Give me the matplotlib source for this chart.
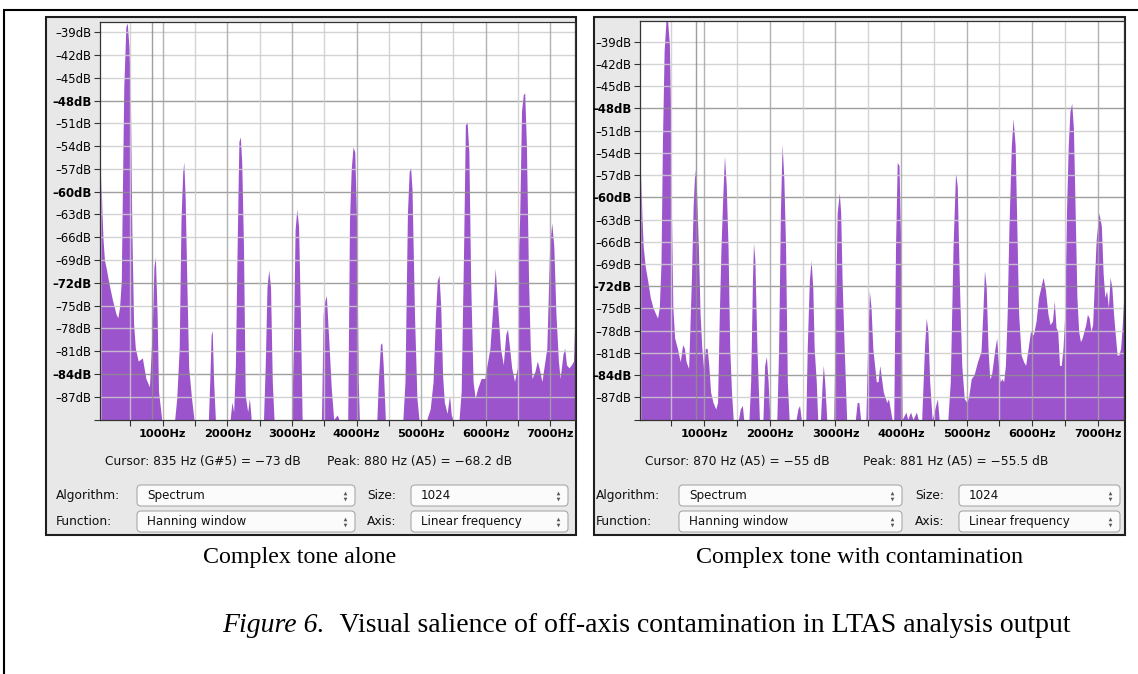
import matplotlib
matplotlib.use("Agg")
import matplotlib.pyplot as plt
from matplotlib.patches import Rectangle, FancyBboxPatch

W, H = 1138, 674

# Long-term spectra (frequency in Hz, level in dB)
alone_hz = [43, 60, 76, 98, 130, 168, 223, 277, 304, 332, 359, 370, 397, 429, 451, 478, 500, 522,
            549, 576, 620, 685, 739, 794, 837, 864, 886, 913, 935, 984,
            1185, 1217, 1255, 1283, 1310, 1326, 1348, 1375, 1402, 1446, 1484,
            1707, 1728, 1750, 1766, 1788, 1815,
            2044, 2071, 2098, 2125, 2152, 2179, 2201, 2223, 2250, 2277, 2315, 2342, 2370,
            2560, 2587, 2614, 2641, 2669, 2696, 2723,
            2995, 3022, 3049, 3076, 3103, 3131, 3158,
            3457, 3484, 3511, 3533, 3554, 3582, 3609, 3647, 3701, 3728,
            3864, 3891, 3918, 3946, 3973, 4000, 4027, 4044,
            4315, 4337, 4370, 4391, 4413, 4446,
            4718, 4750, 4788, 4815, 4837, 4859, 4897, 4935, 4967,
            5087, 5141, 5185, 5223, 5250, 5277, 5304, 5332, 5359, 5402, 5440, 5467, 5495,
            5587, 5620, 5658, 5685, 5712, 5739, 5767, 5804, 5837, 5875, 5929, 5984,
            6065, 6120, 6147, 6185, 6228, 6272, 6310, 6337, 6370, 6402, 6446, 6489, 6511,
            6527, 6554, 6582, 6603, 6630, 6663, 6690, 6717, 6761, 6799, 6826, 6870, 6908, 6946,
            6989, 7022, 7054, 7087, 7125, 7152, 7196, 7223, 7250, 7288, 7326, 7359, 7381, 7397, 7408]
alone_db = [-57.9, -62.8, -66.3, -69.0, -70.3, -72.1, -74.3, -76.1, -76.6, -75.2, -71.7, -63.7, -46.3,
            -38.3, -37.8, -41.0, -47.9, -65.0, -77.4, -80.6, -82.3, -81.9, -84.6, -85.7, -78.3, -69.9,
            -68.6, -76.1, -86.3, -90,
            -90, -87.2, -80.6, -63.7, -57.4, -56.1, -61.0, -72.6, -83.2, -87.2, -90,
            -90, -85.0, -78.8, -78.3, -85.0, -90,
            -90, -87.7, -89.0, -82.8, -67.2, -53.4, -52.8, -56.1, -67.2, -86.8, -89.0, -87.2, -90,
            -90, -82.8, -72.6, -70.3, -72.6, -85.0, -90,
            -90, -80.6, -65.0, -62.3, -64.6, -76.1, -90,
            -90, -76.1, -74.3, -73.7, -77.0, -81.4, -85.9, -90, -89.4, -90,
            -90, -63.7, -57.0, -54.1, -54.8, -63.7, -85.0, -90,
            -90, -85.0, -80.1, -79.9, -82.8, -90,
            -90, -85.0, -62.8, -57.4, -56.8, -59.7, -76.1, -87.2, -90,
            -90, -88.6, -85.0, -76.1, -71.7, -71.0, -75.2, -84.1, -87.7, -89.2, -86.8, -89.4, -90,
            -90, -86.3, -67.2, -51.2, -50.8, -54.8, -71.7, -85.0, -87.2, -85.9, -84.6, -84.6,
            -80.6, -73.9, -70.1, -75.2, -80.6, -82.8, -78.8, -78.1, -80.6, -83.2, -85.0, -83.2, -67.2,
            -62.8, -49.4, -47.2, -47.0, -53.9, -71.7, -80.6, -84.6, -83.7, -82.3, -83.2, -85.0, -82.8,
            -80.6, -67.2, -64.1, -67.2, -76.1, -82.3, -84.6, -81.4, -80.6, -82.8, -83.2, -82.8, -82.3,
            -76.1, -67.2, -61.0]

contam_hz = [32, 48, 69, 101, 138, 176, 218, 261, 287, 314, 340, 362, 388, 415, 441, 468, 484, 500,
             521, 548, 590, 633, 670, 697, 723, 761, 777, 803, 830, 856, 883, 910, 936, 963, 989,
             1016, 1043, 1069, 1096, 1133, 1175, 1202, 1229, 1255, 1282, 1308, 1335, 1362, 1388,
             1415, 1441,
             1521, 1548, 1580, 1601,
             1681, 1707, 1734, 1750, 1771, 1803, 1840,
             1894, 1920, 1947, 1973, 2000,
             2106, 2133, 2160, 2186, 2213, 2239, 2266, 2293,
             2399, 2426, 2452, 2479,
             2548, 2569, 2601, 2628, 2654, 2675, 2707, 2729,
             2771, 2798, 2814, 2835, 2867,
             2973, 2999, 3026, 3058, 3079, 3101, 3133, 3170,
             3303, 3330, 3356, 3383,
             3463, 3489, 3516, 3542, 3569, 3596, 3622, 3649, 3675, 3702, 3729, 3782, 3808, 3835, 3862,
             3888, 3915, 3941, 3968, 3995, 4016, 4074, 4101, 4144, 4181, 4234, 4261,
             4314, 4356, 4383, 4409, 4436, 4473, 4553, 4580,
             4713, 4750, 4792, 4830, 4856, 4888, 4925, 4963, 5005, 5032, 5069, 5111, 5165, 5218,
             5245, 5271, 5298, 5325, 5351, 5378, 5431, 5458, 5484, 5511, 5537, 5564, 5590, 5617,
             5643, 5681, 5707, 5739, 5760, 5792, 5830, 5867, 5899, 5936, 5973, 6016, 6058, 6096,
             6165, 6202, 6239, 6271, 6308, 6335, 6362, 6388, 6415, 6441, 6468, 6495, 6521, 6548,
             6574, 6601, 6627, 6654, 6680, 6707, 6734, 6760, 6787, 6814, 6840, 6867, 6893, 6920,
             6947, 6973, 7016, 7053, 7080, 7106, 7133, 7160, 7186, 7213, 7239, 7266, 7293, 7319,
             7346, 7372, 7399]
contam_db = [-56.7, -62.1, -66.7, -69.4, -71.3, -73.5, -74.9, -75.8, -76.3, -74.9, -69.0, -52.5, -40.2,
             -36.2, -36.2, -39.3, -47.1, -62.1, -74.9, -79.0, -80.4, -82.2, -79.9, -80.4, -82.2, -83.1,
             -78.6, -71.3, -61.2, -56.2, -59.4, -66.7, -75.8, -80.4, -83.1, -80.4, -80.4, -82.7, -86.3,
             -87.7, -88.6, -87.7, -75.8, -66.7, -59.8, -54.4, -58.5, -66.7, -80.4, -86.3, -90,
             -90, -88.6, -88.1, -90,
             -90, -84.9, -71.3, -66.2, -68.5, -80.4, -90,
             -90, -82.7, -81.5, -84.9, -90,
             -90, -80.4, -62.1, -52.8, -57.6, -66.7, -84.9, -90,
             -90, -88.6, -88.1, -90,
             -90, -80.4, -71.3, -68.5, -72.2, -80.4, -84.9, -90,
             -90, -84.9, -82.7, -84.9, -90,
             -90, -75.8, -62.1, -59.4, -62.1, -71.3, -80.4, -90,
             -90, -87.7, -87.7, -90,
             -90, -80.4, -72.6, -74.9, -80.4, -82.7, -84.9, -84.9, -82.7, -84.5, -86.3, -87.7, -87.2,
             -88.6, -90,
             -90, -66.7, -55.3, -55.7, -66.7, -90, -89.0, -90, -89.0, -90, -89.0, -90,
             -90, -80.4, -76.3, -78.1, -84.9, -90, -87.2, -90,
             -90, -84.9, -66.7, -56.7, -58.5, -71.3, -82.7, -87.2, -87.7, -86.8, -84.5, -84.0, -82.2,
             -80.8, -75.8, -69.9, -72.2, -80.4, -84.5, -84.0, -80.4, -79.0, -82.7, -84.9, -84.5, -84.9,
             -82.7, -75.8, -64.4, -53.0, -49.4, -53.0, -62.1, -75.8, -81.3, -82.2, -82.7, -80.4, -78.1,
             -78.6, -76.7, -73.5, -70.8, -72.6, -75.8, -77.2, -76.7, -74.0, -77.6, -78.1, -82.7, -82.7,
             -80.4, -75.8, -62.1, -53.0, -48.4, -47.3, -50.7, -62.1, -73.5, -78.1, -79.5, -79.0, -78.1,
             -77.2, -75.8, -76.3, -78.1, -77.2, -71.3, -65.8, -62.1, -63.9, -70.3, -73.5, -72.6, -74.9,
             -70.8, -72.2, -75.8, -78.6, -81.3, -81.3, -80.4, -77.2, -72.6]

db_ticks = list(range(-90, -38, 3))
bold_db = [-48, -60, -72, -84]
hz_ticks = list(range(500, 7500, 500))

panel_titles = ["Complex tone alone", "Complex tone with contamination"]
cursor_labels = ["Cursor: 835 Hz (G#5) = \u221273 dB", "Cursor: 870 Hz (A5) = \u221255 dB"]
peak_labels = ["Peak: 880 Hz (A5) = \u221268.2 dB", "Peak: 881 Hz (A5) = \u221255.5 dB"]
cursor_hz = [835, 870]
combo_labels = [("Algorithm:", "Spectrum", "Size:", "1024"),
                ("Function:", "Hanning window", "Axis:", "Linear frequency")]

PURPLE = "#9c54cc"
PANEL_BG = "#e8e8e8"
UI_FONT = "DejaVu Sans"

fig = plt.figure(figsize=(W / 100, H / 100), dpi=100)

# overlay in pixel coordinates (y grows downward) for the window chrome
bg = fig.add_axes([0, 0, 1, 1], zorder=0)
bg.set_xlim(0, W)
bg.set_ylim(H, 0)
bg.axis("off")

# page frame
bg.plot([3, W], [10, 10], color="black", lw=1.5, solid_capstyle="butt")
bg.plot([4, 4], [10, H], color="black", lw=1.5, solid_capstyle="butt")


def px_axes(x0, y0, x1, y1):
    return fig.add_axes([x0 / W, 1 - y1 / H, (x1 - x0) / W, (y1 - y0) / H], zorder=2)


def combo(x0, x1, y0, y1, text):
    box = FancyBboxPatch((x0, y0), x1 - x0, y1 - y0,
                         boxstyle="round,pad=0,rounding_size=4",
                         fc="#fbfbfb", ec="#a9a9a9", lw=0.8)
    bg.add_patch(box)
    yc = (y0 + y1) / 2
    bg.text(x0 + 10, yc, text, fontsize=8.6, family=UI_FONT, ha="left", va="center", color="#111")
    bg.plot([x1 - 10], [yc - 3], marker="^", ms=2.6, color="#555", mew=0)
    bg.plot([x1 - 10], [yc + 3], marker="v", ms=2.6, color="#555", mew=0)


def draw_panel(idx, box, plot_box, xlim, ylim, hz, db, text_x, title_x):
    bx0, by0, bx1, by1 = box
    bg.add_patch(Rectangle((bx0, by0), bx1 - bx0, by1 - by0, fc=PANEL_BG, ec="#1e1e1e", lw=1.5))

    ax = px_axes(*plot_box)
    ax.set_facecolor("white")
    ax.fill_between(hz, db, -95, color=PURPLE, lw=0, zorder=1)

    # grid drawn over the spectrum like in Audacity
    for d in db_ticks[1:]:
        dark = d in bold_db
        ax.axhline(d, color="#8e8e8e" if dark else "#cdcdcd", lw=1.0, alpha=0.85, zorder=2)
    for f in hz_ticks:
        ax.axvline(f, color="#a5a5a5" if f % 1000 == 0 else "#cdcdcd", lw=1.0, alpha=0.85, zorder=2)
    ax.axvline(cursor_hz[idx], color="#8e8e8e", lw=1.0, alpha=0.85, zorder=2)

    ax.set_xlim(*xlim)
    ax.set_ylim(*ylim)
    ax.set_yticks(db_ticks)
    ylabels = ["" if d == -90 else f"\u2013{-d}dB" for d in db_ticks]
    ax.set_yticklabels(ylabels, fontsize=8.4, family=UI_FONT)
    for lab, d in zip(ax.get_yticklabels(), db_ticks):
        if d in bold_db:
            lab.set_fontweight("bold")
    ax.set_xticks(hz_ticks)
    ax.set_xticklabels([f"{f}Hz" if f % 1000 == 0 else "" for f in hz_ticks],
                       fontsize=8.2, family=UI_FONT, fontweight="bold")
    ax.tick_params(axis="both", direction="out", length=4, width=0.8, color="#333", pad=2)
    ax.tick_params(axis="x", pad=3)
    for s in ax.spines.values():
        s.set_color("#333")
        s.set_linewidth(0.9)

    # status line and option rows
    bg.text(text_x[0], 462, cursor_labels[idx], fontsize=8.8, family=UI_FONT, ha="left", va="center", color="#111")
    bg.text(text_x[1], 462, peak_labels[idx], fontsize=8.8, family=UI_FONT, ha="left", va="center", color="#111")
    rows = [(485, 506), (511, 532)]
    for (y0, y1), (lab1, val1, lab2, val2) in zip(rows, combo_labels):
        yc = (y0 + y1) / 2
        bg.text(text_x[2], yc, lab1, fontsize=8.8, family=UI_FONT, ha="left", va="center", color="#111")
        bg.text(text_x[3], yc, lab2, fontsize=8.8, family=UI_FONT, ha="left", va="center", color="#111")
        combo(text_x[4], text_x[5], y0, y1, val1)
        combo(text_x[6], text_x[7], y0, y1, val2)

    bg.text(title_x, 557, panel_titles[idx], fontsize=17.3, family="Liberation Serif",
            ha="center", va="center", color="black")


draw_panel(0, (46, 17, 576, 535), (100, 22, 575, 419.5), (29, 7382), (-90, -37.66),
           alone_hz, alone_db, [105, 327, 56, 367, 137, 355, 411, 568], 300)
draw_panel(1, (594, 17, 1125, 535), (640, 21, 1124, 419.5), (20, 7398), (-90, -36.2),
           contam_hz, contam_db, [645, 863, 596, 915, 679, 902, 959, 1120], 860)

# figure caption: italic label followed by upright text
cap = bg.text(222, 626, "Figure 6.", fontsize=20, family="Liberation Serif", style="italic",
              ha="left", va="center")
fig.canvas.draw()
ext = cap.get_window_extent(renderer=fig.canvas.get_renderer())
bg.text(ext.x1 + 2, 626, "  Visual salience of off-axis contamination in LTAS analysis output",
        fontsize=20, family="Liberation Serif", ha="left", va="center")

fig.savefig("out.png", dpi=100)
plt.close(fig)
